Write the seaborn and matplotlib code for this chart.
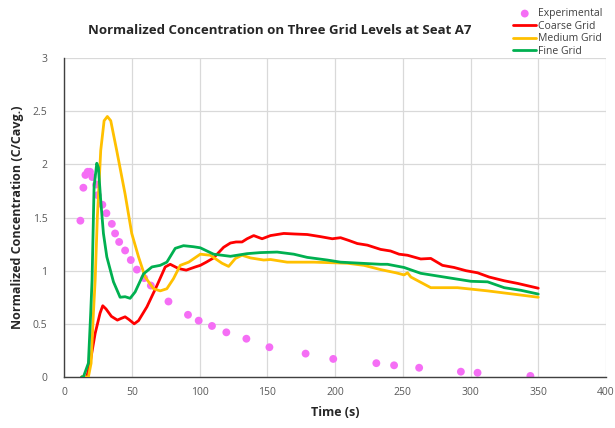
import matplotlib
matplotlib.use("Agg")
import matplotlib.pyplot as plt
import seaborn as sns
import pandas as pd
from matplotlib.ticker import MultipleLocator

# ---- data ----
exp_t = [12.1, 14.3, 15.8, 17.5, 19.2, 20.9, 23.7, 24.9, 28.3, 31.3, 35.3, 37.7, 40.7,
         45.1, 49.3, 53.8, 59.2, 64.1, 77.1, 91.5, 99.4, 109.2, 119.8, 134.6, 151.6,
         178.3, 198.7, 230.5, 243.6, 262.1, 292.9, 305.2, 344.2]
exp_c = [1.47, 1.78, 1.90, 1.93, 1.93, 1.88, 1.81, 1.71, 1.62, 1.54, 1.44, 1.35, 1.27,
         1.19, 1.10, 1.01, 0.93, 0.86, 0.71, 0.585, 0.53, 0.48, 0.42, 0.36, 0.28,
         0.22, 0.17, 0.13, 0.11, 0.087, 0.05, 0.04, 0.01]

coarse_t = [13, 16.8, 19.2, 23, 26.6, 28.6, 31, 35, 39.4, 42, 45.1, 48, 51.8, 55, 61.2,
            68.6, 74.7, 78.4, 84.5, 90.2, 96.9, 100.6, 105, 110.4, 117.8, 122.8, 127,
            131.4, 135.1, 140, 146.2, 152.4, 162.2, 170, 179.5, 189.3, 198, 204.1, 210,
            216.5, 223.9, 233.7, 241, 247.3, 253.5, 263.3, 270.7, 279.3, 287.9, 296.6,
            305.2, 313.8, 324.9, 334.8, 350]
coarse_c = [0, 0.0, 0.13, 0.41, 0.6, 0.67, 0.64, 0.57, 0.535, 0.55, 0.566, 0.54, 0.50,
            0.53, 0.66, 0.86, 1.035, 1.06, 1.02, 1.005, 1.035, 1.05, 1.08, 1.12, 1.22,
            1.26, 1.27, 1.27, 1.30, 1.33, 1.30, 1.33, 1.35, 1.345, 1.34, 1.32, 1.30,
            1.31, 1.285, 1.255, 1.24, 1.20, 1.185, 1.155, 1.145, 1.11, 1.115, 1.05,
            1.03, 1.0, 0.98, 0.94, 0.905, 0.88, 0.835]

medium_t = [13, 18, 20, 21.7, 23, 24.6, 27.1, 29.6, 32, 34.5, 38.9, 45.1, 50, 55, 59.9,
            66.1, 71, 75.9, 80.8, 85.8, 92, 100.6, 108, 112, 116.6, 121.5, 126.5, 131.4,
            137.6, 147.4, 152.4, 164.7, 184.4, 209, 221.4, 233.7, 245, 251, 253.5, 256,
            270.7, 290.4, 312.6, 350]
medium_c = [0, 0, 0.13, 0.6, 0.91, 1.5, 2.13, 2.41, 2.45, 2.41, 2.13, 1.72, 1.35, 1.13,
            0.94, 0.83, 0.81, 0.83, 0.925, 1.05, 1.08, 1.155, 1.145, 1.11, 1.07, 1.04,
            1.115, 1.145, 1.12, 1.10, 1.105, 1.08, 1.08, 1.07, 1.05, 1.01, 0.98, 0.96,
            0.98, 0.94, 0.84, 0.84, 0.81, 0.75]

fine_t = [13, 14.3, 18, 19.7, 20.7, 22.2, 24.2, 25.4, 27.1, 29.1, 31.6, 36.5, 41.4, 45.1,
          48.8, 52.5, 58.7, 64.9, 71, 75.9, 82.1, 88.2, 95.6, 100.6, 110.4, 122.8, 135.1,
          145, 157.3, 169.6, 179.5, 194.3, 204.1, 218.9, 233.7, 238.7, 251, 263.3, 275.6,
          287.9, 300.3, 312.6, 324.9, 337.3, 350]
fine_c = [0, 0, 0.13, 0.6, 0.91, 1.79, 2.01, 1.97, 1.66, 1.35, 1.13, 0.895, 0.75, 0.755,
          0.74, 0.80, 0.97, 1.035, 1.05, 1.08, 1.21, 1.235, 1.225, 1.215, 1.155, 1.135,
          1.16, 1.17, 1.175, 1.155, 1.125, 1.10, 1.08, 1.07, 1.06, 1.06, 1.03, 0.975,
          0.95, 0.925, 0.90, 0.895, 0.84, 0.815, 0.78]

labels = ["Experimental", "Coarse Grid", "Medium Grid", "Fine Grid"]
colors = {"Experimental": "#F56EF5", "Coarse Grid": "#FF0000",
          "Medium Grid": "#FFC000", "Fine Grid": "#00B050"}

sns.set_style("white")
plt.rcParams["font.family"] = ["Open Sans", "DejaVu Sans"]

fig = plt.figure(figsize=(6.15, 4.28), dpi=100)
ax = fig.add_axes([64 / 615, 1 - 377 / 428, (606 - 64) / 615, (377 - 58) / 428])

exp_df = pd.DataFrame({"t": exp_t, "c": exp_c})
sns.scatterplot(data=exp_df, x="t", y="c", ax=ax, color=colors["Experimental"],
                s=32, edgecolor="none", label="Experimental", zorder=2)

for name, t, c in [("Coarse Grid", coarse_t, coarse_c),
                   ("Medium Grid", medium_t, medium_c),
                   ("Fine Grid", fine_t, fine_c)]:
    df = pd.DataFrame({"t": t, "c": c})
    sns.lineplot(data=df, x="t", y="c", ax=ax, color=colors[name], linewidth=2.0,
                 sort=False, estimator=None, label=name, zorder=3,
                 solid_joinstyle="round", solid_capstyle="round")

ax.set_xlim(0, 400)
ax.set_ylim(0, 3)
ax.xaxis.set_major_locator(MultipleLocator(50))
ax.xaxis.set_minor_locator(MultipleLocator(10))
ax.yaxis.set_major_locator(MultipleLocator(0.5))
ax.yaxis.set_minor_locator(MultipleLocator(0.1))
ax.set_yticks([0, 0.5, 1, 1.5, 2, 2.5, 3])
ax.set_yticklabels(["0", "0.5", "1", "1.5", "2", "2.5", "3"])
ax.grid(True, which="major", color="#D9D9D9", linewidth=0.9)
ax.set_axisbelow(True)

for s in ["top", "right"]:
    ax.spines[s].set_visible(False)
for s in ["left", "bottom"]:
    ax.spines[s].set_color("#404040")
    ax.spines[s].set_linewidth(1.0)

ax.tick_params(axis="both", which="both", direction="in", length=3.5, width=0.8,
               color="#404040", labelsize=7.5, labelcolor="#595959")
ax.tick_params(axis="x", pad=7)
ax.tick_params(axis="y", pad=12)

ax.set_xlabel("Time (s)", fontsize=9, fontweight="bold", color="#262626", labelpad=6)
ax.set_ylabel("Normalized Concentration (C/Cavg.)", fontsize=9, fontweight="bold",
              color="#262626", labelpad=6)

fig.text(280 / 615, 1 - 31 / 428, "Normalized Concentration on Three Grid Levels at Seat A7",
         ha="center", va="center", fontsize=9.5, fontweight="bold", color="#262626")

handles, labs = ax.get_legend_handles_labels()
ax.legend(handles, labs, loc="upper left", bbox_to_anchor=(506 / 615, 1 - 1 / 428),
          bbox_transform=fig.transFigure, frameon=False, fontsize=7.5,
          handlelength=2.2, handletextpad=0.15, labelspacing=0.15, borderpad=0.2,
          labelcolor="#404040")

fig.savefig("out.png", dpi=100)
